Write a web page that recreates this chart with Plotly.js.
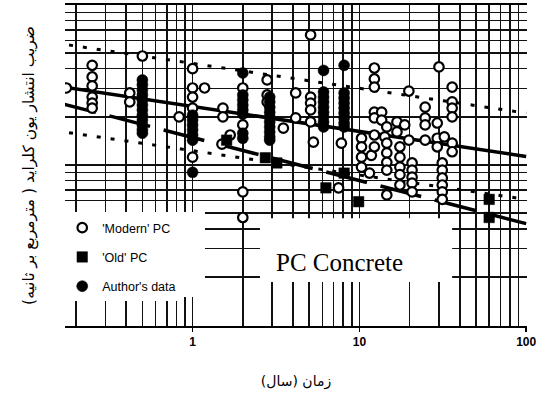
<!DOCTYPE html>
<html><head><meta charset="utf-8">
<script src="https://cdn.plot.ly/plotly-3.0.1.min.js"></script>
<style>html,body{margin:0;padding:0;background:#fff}#chart{width:539px;height:402px}</style>
</head><body><div id="chart"></div>
<script>
// Time (years) and chloride diffusion coefficient (arbitrary units, x1e-12 m2/s)
const modernYears = [0.175,
  0.25,0.25,0.25,0.25,0.25,0.25,
  0.42,0.42, 0.5, 0.83,
  1,1,1,1,1, 1.18, 1.52,1.52, 1.5, 1.68,
  2,2,2,2, 2.8,2.8,2.8, 3.5, 4.15,4.15,
  5.1,5.1,5.1,5.1,5.1, 5.3, 7.5, 7.8,
  10.3,10.3,10.3,10.3, 11.5, 11.8,
  12.3,12.3,12.3,12.3,12.3,12.3,12.3,
  13.6,13.6, 14.2,
  14.6,14.6,14.6,14.6,14.6,14.6,
  16.8,16.8, 17.5,17.5,17.5,17.5,17.5, 18.7, 19.8,19.8,
  20.7,20.7,20.7,20.7,20.7,
  24.8,24.8,24.8,24.8, 29.3,29.3,29.3, 30, 32.3,
  31.4,31.4,31.4,31.4,31.4,31.4,
  36,36,36,36,36,36];
const modernD = [3.03,
  4.2,3.55,3.12,2.66,2.44,2.27,
  2.82,2.48, 4.8, 2.0,
  4.0,3.03,2.66,2.27,1.12, 3.03, 2.27,2.0, 1.35, 1.54,
  3.03,1.78,0.68,0.47, 3.4,2.74,2.48, 1.70, 2.82,1.97,
  6.5,2.66,2.44,2.21,1.86, 1.39, 0.72, 1.37,
  1.47,1.30,1.12,0.97, 0.89, 1.15,
  4.04,3.45,3.07,2.14,1.97,1.54,1.30,
  2.14,1.91, 1.5,
  1.73,1.37,1.19,1.04,0.93,0.65,
  1.86,1.61, 1.30,1.12,0.97,0.87,0.75, 1.78, 2.9,1.43,
  1.03,0.93,0.84,0.77,0.68,
  2.3,1.97,1.78,1.43, 1.83,1.47,1.30, 4.1, 1.5,
  1.03,0.93,0.83,0.75,0.68,0.61,
  3.07,2.48,2.27,2.0,1.37,1.21];

const oldYears = [1.6, 2.73, 3.2, 6.3, 8.1, 9.9, 60, 60];
const oldD     = [1.43, 1.11, 1.03, 0.72, 0.89, 0.59, 0.61, 0.47];

const authorYears = [0.5,0.5,0.5,0.5,0.5,0.5,0.5,0.5,0.5,0.5,0.5,0.5,
  1,1,1,1,1,1,1,
  2,2,2,2,2,2,2,2,
  2.9,2.9,2.9,2.9,2.9,2.9,2.9,2.9,2.9,2.9,
  6.1,6.1,6.1,6.1,6.1,6.1,6.1,6.1,6.1,
  8.1,8.1,8.1,8.1,8.1,8.1,8.1,8.1,8.1];
const authorD = [3.4,3.17,2.94,2.74,2.55,2.37,2.21,2.05,1.91,1.78,1.66,1.58,
  2.05,1.91,1.78,1.66,1.54,1.43,0.90,
  3.76,2.74,2.55,2.37,2.21,2.08,1.58,1.47,
  2.66,2.48,2.3,2.14,2.0,1.86,1.73,1.61,1.5,1.43,
  3.9,2.86,2.66,2.48,2.3,2.14,2.0,1.86,1.73,
  4.2,2.82,2.62,2.44,2.27,2.11,1.97,1.83,1.73];

const lineYears   = [0.15, 100];
const meanLine    = [3.13, 1.13];
const upperBound  = [5.79, 2.11];
const lowerBound  = [1.64, 0.61];
const oldPcLine   = [2.48, 0.43];

const legendNames = ["'Modern' PC", "'Old' PC", "Author's data"];
const xTitle = 'زمان (سال)\u200F';
const yTitle = 'ضریب انتشار یون کلراید ( مترمربع بر ثانیه)\u200F';

const traces = [
  {x: lineYears, y: upperBound, mode:'lines', line:{color:'#000', width:3, dash:'4px,10px'}, showlegend:false, hoverinfo:'skip'},
  {x: lineYears, y: lowerBound, mode:'lines', line:{color:'#000', width:3, dash:'4px,10px'}, showlegend:false, hoverinfo:'skip'},
  {x: lineYears, y: meanLine, mode:'lines', line:{color:'#000', width:3.5}, showlegend:false, hoverinfo:'skip'},
  {x: lineYears, y: oldPcLine, mode:'lines', line:{color:'#000', width:3.5, dash:'42px,14px'}, showlegend:false, hoverinfo:'skip'},
  {x: modernYears, y: modernD, mode:'markers', name: legendNames[0], legendgroup:'a',
   marker:{symbol:'circle', size:9.5, color:'#fff', line:{color:'#000', width:2.2}}},
  {x: oldYears, y: oldD, mode:'markers', name: legendNames[1], legendgroup:'b',
   marker:{symbol:'square', size:10.5, color:'#000', line:{color:'#000', width:0.5}}},
  {x: authorYears, y: authorD, mode:'markers', name: legendNames[2], legendgroup:'c',
   marker:{symbol:'circle', size:11, color:'#000', line:{color:'#000', width:0.5}}}
];

const gridCol = '#111';
const layout = {
  width:539, height:402,
  margin:{l:65, r:12, t:5, b:76},
  paper_bgcolor:'#fff', plot_bgcolor:'#fff',
  showlegend:true,
  font:{family:'Liberation Sans, Arial, sans-serif', color:'#000'},
  xaxis:{type:'log', range:[-0.765, 2.005], dtick:1, tick0:0,
    ticks:'outside', ticklen:4, tickwidth:1.5, tickcolor:'#000',
    tickfont:{family:'Liberation Sans, Arial, sans-serif', size:12, color:'#000', weight:'bold'},
    showgrid:true, gridcolor:gridCol, gridwidth:1.7,
    minor:{dtick:'D1', showgrid:true, gridcolor:gridCol, gridwidth:1.6, ticks:''},
    showline:true, linecolor:'#000', linewidth:2, mirror:true, zeroline:false,
    title:{text:xTitle, font:{family:'DejaVu Sans, sans-serif', size:14, color:'#000'}, standoff:28}},
  yaxis:{type:'log', range:[-1.006, 1.0], dtick:1, tick0:0,
    showticklabels:false, ticks:'',
    showgrid:true, gridcolor:gridCol, gridwidth:1.7,
    minor:{dtick:'D1', showgrid:true, gridcolor:gridCol, gridwidth:1.6, ticks:''},
    showline:false, zeroline:false,
    title:{text:yTitle, font:{family:'DejaVu Sans, sans-serif', size:15.5, color:'#000'}, standoff:25}},
  legend:{x:-0.006, y:0.352, xanchor:'left', yanchor:'top', bgcolor:'#fff', borderwidth:0,
    font:{family:'Liberation Sans, Arial, sans-serif', size:12.5, color:'#000'},
    itemwidth:30, traceorder:'grouped', tracegroupgap:10},
  shapes:[
    {type:'rect', xref:'paper', yref:'paper', x0:-0.007, x1:0.303, y0:0.09, y1:0.355,
     fillcolor:'#fff', line:{width:0}, layer:'above'},
    {type:'rect', xref:'paper', yref:'paper', x0:0.422, x1:0.838, y0:0.137, y1:0.336,
     fillcolor:'#fff', line:{width:0}, layer:'above'}
  ],
  annotations:[
    {text:'PC Concrete', xref:'paper', yref:'paper', x:0.595, y:0.199, showarrow:false,
     xanchor:'center', yanchor:'middle',
     font:{family:'Liberation Serif, Times New Roman, serif', size:25, color:'#000'}}
  ]
};

Plotly.newPlot('chart', traces, layout, {displayModeBar:false, staticPlot:true});
</script>
</body></html>
